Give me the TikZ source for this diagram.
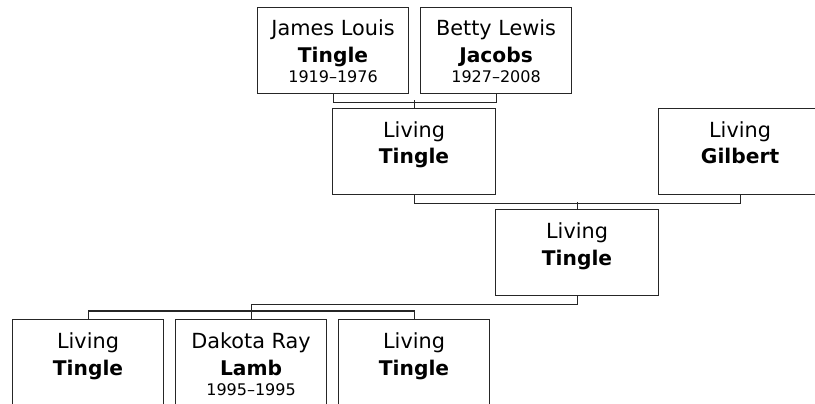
\documentclass[tikz,border=0pt]{standalone}
\usepackage{fontspec}
\setmainfont{DejaVu Sans}
\begin{document}
\begin{tikzpicture}[x=1pt,y=-1pt,
  box/.style={draw=black!85, line width=1.1pt, rectangle, inner sep=0pt, anchor=north west, minimum height=86pt},
  wide/.style={minimum width=163pt},
  narrow/.style={minimum width=151pt},
  nm/.style={anchor=base, inner sep=0pt, font=\fontsize{20.8}{24}\selectfont},
  bn/.style={anchor=base, inner sep=0pt, font=\fontsize{20.2}{24}\selectfont\bfseries},
  dt/.style={anchor=base, inner sep=0pt, font=\fontsize{16}{19}\selectfont},
  conn/.style={draw=black!85, line width=1.1pt}]
\useasboundingbox (0,0) rectangle (815,404);
\clip (0,0) rectangle (815,404);

\node[box,narrow] (jl) at (257,7) {};
\node[box,narrow] (bl) at (420,7) {};
\node[box,wide] (pt) at (332,108) {};
\node[box,wide] (gi) at (658,108) {};
\node[box,wide] (me) at (495,209) {};
\node[box,narrow] (c1) at (12,319) {};
\node[box,narrow] (c2) at (175,319) {};
\node[box,narrow] (c3) at (338,319) {};

\node[nm] (jlA) at ([yshift=-29pt]jl.north) {James Louis};
\node[bn] (jlB) at ([yshift=-56pt]jl.north) {Tingle};
\node[dt] (jlC) at ([yshift=-76pt]jl.north) {1919–1976};

\node[nm] (blA) at ([yshift=-29pt]bl.north) {Betty Lewis};
\node[bn] (blB) at ([yshift=-56pt]bl.north) {Jacobs};
\node[dt] (blC) at ([yshift=-76pt]bl.north) {1927–2008};

\node[nm] (ptA) at ([yshift=-29pt]pt.north) {Living};
\node[bn] (ptB) at ([yshift=-56pt]pt.north) {Tingle};

\node[nm] (giA) at ([yshift=-29pt]gi.north) {Living};
\node[bn] (giB) at ([yshift=-56pt]gi.north) {Gilbert};

\node[nm] (meA) at ([yshift=-29pt]me.north) {Living};
\node[bn] (meB) at ([yshift=-56pt]me.north) {Tingle};

\node[nm] (c1A) at ([yshift=-29pt]c1.north) {Living};
\node[bn] (c1B) at ([yshift=-56pt]c1.north) {Tingle};

\node[nm] (c2A) at ([yshift=-29pt]c2.north) {Dakota Ray};
\node[bn] (c2B) at ([yshift=-56pt]c2.north) {Lamb};
\node[dt] (c2C) at ([yshift=-76pt]c2.north) {1995–1995};

\node[nm] (c3A) at ([yshift=-29pt]c3.north) {Living};
\node[bn] (c3B) at ([yshift=-56pt]c3.north) {Tingle};

\draw[conn] (jl.south) -- ++(0,8) -| (bl.south);
\draw[conn] (pt.north) -- ++(0,-8);
\draw[conn] (pt.south) -- ++(0,8) -| (gi.south);
\draw[conn] (me.north) -- ++(0,-7);
\draw[conn] (me.south) -- ++(0,8) -| (c2.north);
\draw[conn] (c1.north) -- ++(0,-8) -| (c3.north);
\end{tikzpicture}
\end{document}
